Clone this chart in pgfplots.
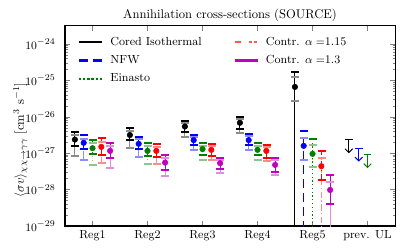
\documentclass[border=0pt]{standalone}
\usepackage{pgfplots}
\pgfplotsset{compat=1.18}
\usepackage{pgfplotstable}
\usetikzlibrary{arrows.meta}
\definecolor{cgreen}{rgb}{0,0.5,0}
\definecolor{cmag}{rgb}{0.75,0,0.75}
\definecolor{cblue}{rgb}{0,0,1}
\definecolor{cred}{rgb}{1,0,0}

% each bar: two rows (lower end, upper end) then a nan row
% d = dark bar, l = light bar, p = central value
\pgfplotstableread{
x d l p
0.68 1.63e-27 8.48e-28 2.38e-27
0.68 3.96e-27 3.21e-27 nan
nan nan nan nan
1.68 2.42e-27 1.41e-27 3.17e-27
1.68 5.11e-27 4.14e-27 nan
nan nan nan nan
2.68 3.81e-27 2.88e-27 5.44e-27
2.68 7.96e-27 6.75e-27 nan
nan nan nan nan
3.68 4.61e-27 3.58e-27 6.88e-27
3.68 1.03e-26 8.87e-27 nan
nan nan nan nan
4.68 1e-31 2.83e-26 6.67e-26
4.68 1.75e-25 1.23e-25 nan
}\cored
\pgfplotstableread{
x d l p
0.84 1.32e-27 6.66e-28 1.94e-27
0.84 3.27e-27 2.57e-27 nan
nan nan nan nan
1.84 1.34e-27 7.86e-28 1.82e-27
1.84 2.88e-27 2.52e-27 nan
nan nan nan nan
2.84 1.70e-27 1.24e-27 2.30e-27
2.84 3.32e-27 2.79e-27 nan
nan nan nan nan
3.84 1.70e-27 1.24e-27 2.30e-27
3.84 3.53e-27 3.01e-27 nan
nan nan nan nan
4.84 1e-31 6.58e-28 1.60e-27
4.84 4.06e-27 2.66e-27 nan
}\nfw
\pgfplotstableread{
x d l p
1.00 9.75e-28 4.79e-28 1.38e-27
1.00 2.34e-27 2.00e-27 nan
nan nan nan nan
2.00 8.75e-28 5.01e-28 1.16e-27
2.00 1.90e-27 1.62e-27 nan
nan nan nan nan
3.00 9.04e-28 6.58e-28 1.30e-27
3.00 1.90e-27 1.58e-27 nan
nan nan nan nan
4.00 9.04e-28 6.58e-28 1.24e-27
4.00 1.90e-27 1.58e-27 nan
nan nan nan nan
5.00 1e-31 4.17e-28 9.62e-28
5.00 2.54e-27 1.67e-27 nan
}\einasto
\pgfplotstableread{
x d l p
1.16 9.04e-28 5.34e-28 1.50e-27
1.16 2.61e-27 2.06e-27 nan
nan nan nan nan
2.16 8.22e-28 5.01e-28 1.16e-27
2.16 1.82e-27 1.52e-27 nan
nan nan nan nan
3.16 8.59e-28 6.58e-28 1.24e-27
3.16 1.85e-27 1.57e-27 nan
nan nan nan nan
4.16 7.33e-28 6.18e-28 1.16e-27
4.16 1.70e-27 1.53e-27 nan
nan nan nan nan
5.16 1.85e-28 1e-31 4.41e-28
5.16 1.14e-27 7.47e-28 nan
}\contra
\pgfplotstableread{
x d l p
1.32 7.71e-28 3.89e-28 1.16e-27
1.32 2.00e-27 1.65e-27 nan
nan nan nan nan
2.32 3.56e-28 2.42e-28 5.54e-28
2.32 8.92e-28 7.33e-28 nan
nan nan nan nan
3.32 3.72e-28 2.83e-28 5.34e-28
3.32 7.71e-28 6.46e-28 nan
nan nan nan nan
4.32 3.13e-28 2.54e-28 4.79e-28
4.32 7.33e-28 6.46e-28 nan
nan nan nan nan
5.32 4.04e-29 1e-31 9.8e-29
5.32 2.49e-28 1.66e-28 nan
}\contrb

\pgfplotsset{
  bars/.style n args={2}{color=#1, line width=0.8pt, #2, mark=none,
    unbounded coords=jump, forget plot},
  caps/.style={only marks, mark=square*, mark size=2.8pt, color=#1,
    mark options={draw=none, fill=#1, yscale=0.143}, forget plot},
  pts/.style={only marks, mark=*, mark size=2.2pt, color=#1,
    mark options={draw=none, fill=#1}, forget plot},
}
\newcommand{\series}[3]{%
  \addplot[bars={#2!45!white}{#3}] table[x=x,y=l]{#1};
  \addplot[caps={#2!45!white}] table[x=x,y=l]{#1};
  \addplot[bars={#2}{#3}] table[x=x,y=d]{#1};
  \addplot[caps={#2}] table[x=x,y=d]{#1};
  \addplot[pts=#2] table[x=x,y=p]{#1};
}

\begin{document}
\begin{tikzpicture}
\begin{axis}[
  at={(0,0)}, anchor=south west,
  scale only axis, width=262pt, height=158.8pt,
  ymode=log, ymin=1e-29, ymax=3.1623e-24,
  xmin=0.5, xmax=6.5,
  xtick={1,2,3,4,5,6},
  xticklabels={Reg1,Reg2,Reg3,Reg4,Reg5,prev. UL},
  ytick={1e-29,1e-28,1e-27,1e-26,1e-25,1e-24},
  tick pos=both, xticklabel pos=lower, yticklabel pos=left,
  tick align=inside,
  major tick length=4pt, minor tick length=2pt,
  tick style={line width=0.5pt},
  axis line style={line width=0.8pt},
  ticklabel style={font=\fontsize{9.3}{11}\selectfont},
  yticklabel style={xshift=-4pt},
  title={Annihilation cross-sections (SOURCE)},
  title style={font=\fontsize{10}{12}\selectfont, yshift=-6pt},
  ylabel={$\langle\sigma v\rangle_{\chi\chi\to\gamma\gamma}$ [cm$^3$ s$^{-1}$]},
  ylabel style={font=\fontsize{10}{12}\selectfont, at={(axis description cs:-0.135,0.43)}, anchor=center},
  legend columns=2,
  legend cell align=left,
  legend style={draw=none, fill=none, at={(0.03,0.972)}, anchor=north west,
    font=\fontsize{9.3}{11}\selectfont, row sep=2.5pt,
    /tikz/every odd column/.append style={column sep=5pt},
    /tikz/every even column/.append style={column sep=24pt}},
]
\addlegendimage{legend image code/.code={\fill[black] (0pt,-0.5pt) rectangle (17.5pt,0.5pt);}}
\addlegendentry{Cored Isothermal}
\addlegendimage{legend image code/.code={\fill[cred!65!white] (0pt,-0.5pt) rectangle (4pt,0.5pt) (11.5pt,-0.5pt) rectangle (12.7pt,0.5pt) (15.5pt,-0.5pt) rectangle (16.7pt,0.5pt);}}
\addlegendentry{Contr. $\alpha=$1.15}
\addlegendimage{legend image code/.code={\fill[cblue] (0pt,-0.5pt) rectangle (6.5pt,0.5pt) (11.5pt,-0.5pt) rectangle (17.5pt,0.5pt);}}
\addlegendentry{NFW}
\addlegendimage{legend image code/.code={\fill[cmag] (0pt,-0.5pt) rectangle (17.5pt,0.5pt);}}
\addlegendentry{Contr. $\alpha=$1.3}
\addlegendimage{legend image code/.code={\fill[cgreen] (0pt,-0.5pt) rectangle (1.1pt,0.5pt) (3.3pt,-0.5pt) rectangle (4.4pt,0.5pt) (6.6pt,-0.5pt) rectangle (7.7pt,0.5pt) (9.9pt,-0.5pt) rectangle (11pt,0.5pt) (13.2pt,-0.5pt) rectangle (14.3pt,0.5pt) (16.5pt,-0.5pt) rectangle (17.6pt,0.5pt);}}
\addlegendentry{Einasto}

\series{\cored}{black}{solid}
\series{\nfw}{cblue}{dash pattern=on 7pt off 4pt}
\series{\einasto}{cgreen}{dash pattern=on 1pt off 2pt}
\series{\contra}{cred}{dash pattern=on 5pt off 2pt on 1pt off 2pt}
\series{\contrb}{cmag}{solid}

% previous upper limits
\addplot[black, line width=0.8pt, {Bar[width=6pt]}-{Straight Barb[length=3pt,width=6pt]}, forget plot] coordinates {(5.66,2.44e-27) (5.66,1.0e-27)};
\addplot[cblue, line width=0.8pt, {Bar[width=6pt]}-{Straight Barb[length=3pt,width=6pt]}, forget plot] coordinates {(5.84,1.38e-27) (5.84,5.9e-28)};
\addplot[cgreen, line width=0.8pt, {Bar[width=6pt]}-{Straight Barb[length=3pt,width=6pt]}, forget plot] coordinates {(6.00,9.62e-28) (6.00,3.89e-28)};
\end{axis}
\pgfresetboundingbox
\path[use as bounding box] (-51.6pt,-19pt) rectangle (271.5pt,179.4pt);
\end{tikzpicture}
\end{document}
